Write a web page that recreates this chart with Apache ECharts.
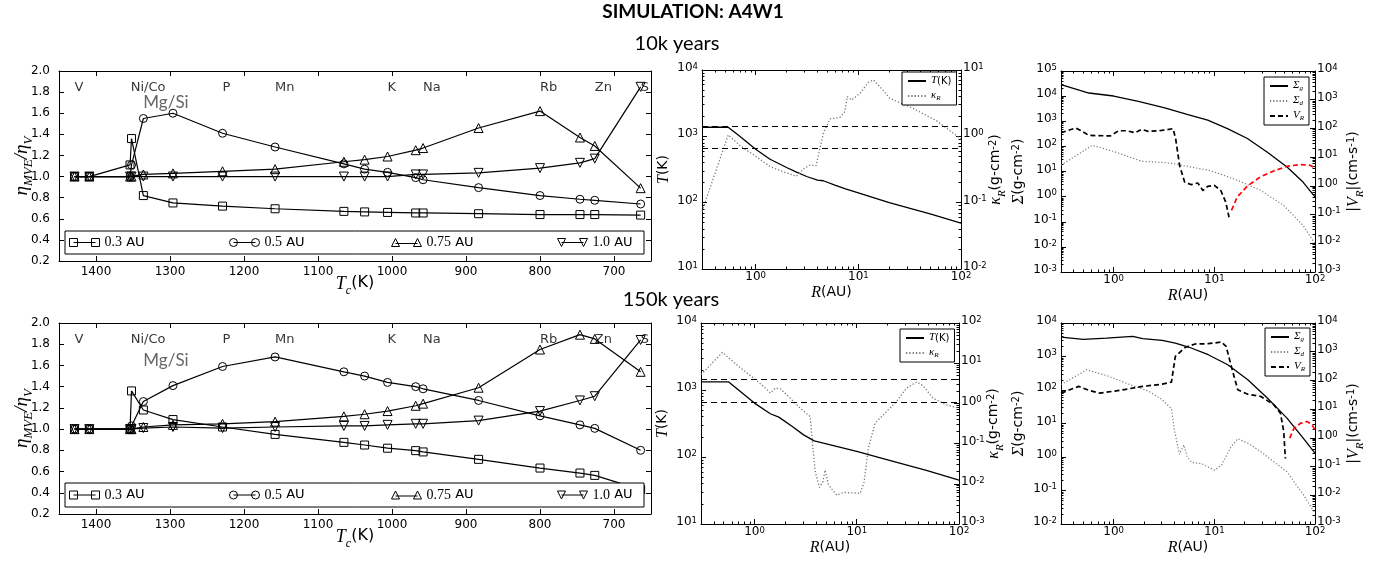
<!DOCTYPE html>
<html>
<head>
<meta charset="utf-8">
<script src="https://cdn.jsdelivr.net/npm/echarts@6/dist/echarts.min.js"></script>
<style>
html, body { margin: 0; padding: 0; background: #fff; }
#chart { width: 1385px; height: 561px; }
</style>
</head>
<body>
<div id="chart"></div>
<script>
// ---- condensation temperatures of the tracked elements (K) ----
const condTemp = [1429, 1409, 1354, 1352, 1336, 1296, 1229, 1158, 1065, 1037, 1006, 968, 958, 883, 800, 746, 726, 664];

// eta_MVE / eta_V after 10k years, one list per radius
const eta10k_03 = [1.0, 1.0, 1.11, 1.36, 0.82, 0.75, 0.72, 0.695, 0.67, 0.665, 0.66, 0.655, 0.655, 0.648, 0.64, 0.64, 0.64, 0.635];
const eta10k_05 = [1.0, 1.0, 1.0, 1.11, 1.55, 1.6, 1.41, 1.28, 1.12, 1.07, 1.04, 0.99, 0.97, 0.895, 0.82, 0.785, 0.775, 0.74];
const eta10k_075 = [1.0, 1.0, 1.0, 1.0, 1.02, 1.03, 1.05, 1.07, 1.14, 1.16, 1.19, 1.25, 1.27, 1.46, 1.62, 1.37, 1.29, 0.89];
const eta10k_10 = [1.0, 1.0, 1.0, 1.0, 1.0, 1.0, 1.0, 1.0, 1.0, 1.0, 1.0, 1.02, 1.02, 1.035, 1.08, 1.13, 1.17, 1.85];

// eta_MVE / eta_V after 150k years
const eta150k_03 = [1.0, 1.0, 1.0, 1.36, 1.18, 1.09, 1.02, 0.95, 0.875, 0.85, 0.82, 0.797, 0.785, 0.715, 0.633, 0.586, 0.564, 0.43];
const eta150k_05 = [1.0, 1.0, 1.0, 1.03, 1.26, 1.41, 1.59, 1.68, 1.54, 1.5, 1.44, 1.4, 1.38, 1.27, 1.125, 1.04, 1.007, 0.8];
const eta150k_075 = [1.0, 1.0, 1.0, 1.0, 1.02, 1.04, 1.05, 1.07, 1.12, 1.14, 1.17, 1.22, 1.24, 1.39, 1.75, 1.89, 1.85, 1.54];
const eta150k_10 = [1.0, 1.0, 1.0, 1.0, 1.01, 1.02, 1.01, 1.02, 1.03, 1.03, 1.04, 1.05, 1.05, 1.08, 1.17, 1.27, 1.31, 1.84];

// element annotations
const elementNames = ['V', 'Ni/Co', 'P', 'Mn', 'K', 'Na', 'Rb', 'Zn', 'S'];
const elementTc = [1429, 1353, 1229, 1158, 1006, 958, 800, 726, 664];
const groupLabel = 'Mg/Si';
const groupTc = 1336;

const radiusNames = ['0.3 AU', '0.5 AU', '0.75 AU', '1.0 AU'];
const tcTicks = [700, 800, 900, 1000, 1100, 1200, 1300, 1400];

// ---- disk midplane temperature and Rosseland opacity, 10k years ----
const rTempA = [0.3, 0.54, 0.70, 1.0, 1.38, 2.0, 2.5, 3.14, 4.0, 4.56, 6.0, 7.5, 10, 20, 50, 100];
const tempA = [1370, 1370, 1000, 640, 452, 339, 289, 248, 219, 214, 182, 161, 141, 100, 68, 49];
const rKappaA = [0.3, 0.54, 0.70, 1.0, 1.38, 2.0, 2.5, 2.9, 3.38, 3.87, 4.56, 5.3, 6.6, 7.4, 7.8, 8.6, 10.4, 12.5, 14, 16.2, 20.3, 34, 58, 100];
const kappaA = [0.074, 1.05, 0.73, 0.50, 0.35, 0.28, 0.25, 0.32, 0.37, 0.36, 1.11, 1.83, 1.92, 2.36, 3.98, 3.53, 4.46, 6.5, 7.1, 5.6, 3.74, 2.65, 1.71, 0.91];

// ---- same, 150k years ----
const rTempB = [0.3, 0.56, 1.0, 1.43, 1.73, 2.42, 3.02, 3.84, 10, 22.7, 48, 100];
const tempB = [1320, 1320, 637, 442, 394, 276, 214, 174, 121, 86, 63, 45];
const rKappaB = [0.3, 0.373, 0.485, 0.73, 1.0, 1.28, 1.43, 1.6, 1.79, 2.24, 2.8, 3.51, 3.7, 3.93, 4.33, 4.66, 4.91, 5.3, 6.38, 7.4, 10.8, 11.8, 13, 15.1, 19.6, 24.5, 30.7, 38.5, 44.6, 55.7, 75, 100];
const kappaB = [5.2, 9.2, 18.6, 7.6, 4.1, 2.4, 1.8, 2.4, 2.3, 1.35, 0.76, 0.47, 0.093, 0.02, 0.0081, 0.0112, 0.022, 0.0093, 0.0052, 0.0061, 0.0058, 0.011, 0.078, 0.32, 0.63, 1.12, 2.4, 3.4, 2.74, 1.35, 0.92, 0.76];

// condensation lines drawn across the temperature panels (K)
const condLines = [1429, 664];

// ---- surface densities and radial velocity, 10k years ----
const rSigmaA = [0.3, 0.568, 1.0, 1.76, 3.22, 5.47, 8.6, 13.5, 21.3, 33.4, 52.7, 76, 100];
const sigmaGasA = [28600, 13300, 10100, 6200, 3400, 1820, 1100, 510, 205, 60, 15, 3.8, 0.97];
const rDustA = [0.3, 0.612, 1.0, 1.9, 3.22, 4.35, 5.9, 7.7, 8.6, 11.6, 16.9, 28.7, 48.8, 76, 100];
const sigmaDustA = [17.8, 110, 63, 25.5, 22.6, 19.3, 15, 12.3, 11.5, 7.8, 4.5, 1.8, 0.45, 0.072, 0.0135];
const rVelInA = [0.3, 0.42, 0.488, 0.568, 0.93, 1.12, 1.35, 1.63, 1.9, 2.21, 2.99, 3.89, 4.13, 4.52, 5.07, 5.9, 6.85, 7.7, 8.6, 10.0, 11.6, 13.0, 14.0];
const velInA = [71, 103, 79, 57, 55, 83, 83, 71, 93, 79, 85, 98, 44, 5.1, 1.37, 1.1, 1.26, 0.69, 0.96, 1.04, 0.69, 0.27, 0.081];
const rVelOutA = [14.8, 16.9, 21.3, 28.7, 38.9, 52.7, 71, 89, 100];
const velOutA = [0.14, 0.41, 0.98, 2.05, 3.3, 4.8, 5.5, 5.2, 4.2];

// ---- same, 150k years ----
const rSigmaB = [0.3, 0.5, 0.85, 1.55, 1.94, 3.04, 4.1, 5.55, 8.7, 13.6, 21.5, 33.6, 52.7, 76.7, 100];
const sigmaGasB = [3800, 3240, 3560, 3990, 3400, 3030, 2520, 1920, 1130, 566, 202, 58, 14.5, 3.6, 1.3];
const rDustB = [0.3, 0.54, 0.85, 1.55, 2.25, 3.04, 3.75, 4.04, 4.5, 4.98, 5.37, 5.97, 7.5, 10.1, 11.8, 14.7, 17.1, 21.5, 29, 39, 52.7, 76.7, 100];
const sigmaDustB = [145, 400, 270, 134, 91, 51, 27.5, 5.8, 1.2, 2.3, 1.02, 0.69, 0.63, 0.4, 0.58, 2.04, 3.5, 2.6, 1.44, 0.72, 0.36, 0.074, 0.021];
const rVelInB = [0.3, 0.45, 0.58, 0.73, 1.23, 1.94, 3.04, 3.75, 4.1, 5.13, 6.44, 8.7, 11.8, 13.1, 14.9, 17.1, 21.5, 29, 39, 45.4, 48.9, 50.8];
const velInB = [36, 62, 44, 36, 47, 62, 74, 87, 690, 1410, 1860, 1900, 2170, 1540, 270, 47, 33, 27.6, 14.2, 7.2, 1.66, 0.19];
const rVelOutB = [56, 61.5, 71.5, 82.8, 92.6, 100];
const velOutB = [0.98, 2.05, 3.2, 3.7, 3.0, 1.9];

// ---------------------------------------------------------------
const BLACK = '#000';
const SANS = 'DejaVu Sans';
const SERIF = 'Liberation Serif';

const xAxis = [], yAxis = [], series = [], legend = [], graphic = [];
const grid = [
  { left: 59, top: 71, width: 592, height: 190 },
  { left: 702, top: 70, width: 259, height: 199 },
  { left: 1061, top: 71, width: 254, height: 201 },
  { left: 59, top: 323, width: 592, height: 191 },
  { left: 701, top: 323, width: 258, height: 201 },
  { left: 1061, top: 323, width: 254, height: 201 }
];

function zip(xs, ys) { return xs.map((x, i) => [x, ys[i]]); }
function decades(lo, hi) {
  const out = [];
  for (let e = Math.round(Math.log10(lo)); e <= Math.round(Math.log10(hi)); e++) out.push(Math.pow(10, e));
  return out;
}
function minors(lo, hi) {
  const out = [];
  for (let e = Math.floor(Math.log10(lo)); e < Math.ceil(Math.log10(hi)); e++) {
    for (let m = 2; m <= 9; m++) {
      const v = m * Math.pow(10, e);
      if (v >= lo * 0.999 && v <= hi * 1.001) out.push(v);
    }
  }
  return out;
}

// rich-text styles for math-like axis titles
function mathRich(base) {
  return {
    i: { fontFamily: SERIF, fontStyle: 'italic', fontSize: base, lineHeight: base + 4, verticalAlign: 'top', color: BLACK, fill: BLACK },
    n: { fontFamily: SANS, fontSize: base - 2, lineHeight: base + 4, verticalAlign: 'top', color: BLACK, fill: BLACK },
    sb: { fontFamily: SERIF, fontStyle: 'italic', fontSize: Math.round(base * 0.68), lineHeight: 8, verticalAlign: 'bottom', color: BLACK, fill: BLACK },
    sp: { fontFamily: SANS, fontSize: Math.round(base * 0.6), lineHeight: 6, verticalAlign: 'top', color: BLACK, fill: BLACK }
  };
}
const powRich = {
  b: { fontFamily: SANS, fontSize: 12, lineHeight: 16, verticalAlign: 'top', color: BLACK },
  s: { fontFamily: SANS, fontSize: 8.5, lineHeight: 8, verticalAlign: 'top', color: BLACK }
};
function powLabel(v) {
  const e = Math.round(Math.log10(v));
  return '{b|10}{s|' + e + '}';
}
function ticks(vals, len) {
  return { show: true, inside: true, length: len, customValues: vals, lineStyle: { color: BLACK, width: 1 } };
}
const frameLine = { show: true, onZero: false, lineStyle: { color: BLACK, width: 1 } };
const noLine = { show: false, onZero: false };

function addAxis(list, o) {
  list.push(Object.assign({ splitLine: { show: false }, nameMoveOverlap: false }, o));
  return list.length - 1;
}

// vertical axis title, centred on (x, y) and reading bottom-to-top
function verticalTitle(x, y, text) {
  graphic.push({
    type: 'text', x: x, y: y, rotation: Math.PI / 2, silent: true,
    style: { text: text, rich: mathRich(16), fill: BLACK, align: 'center', verticalAlign: 'middle' }
  });
}

// linear Tc axis pair + eta axis pair
function etaAxes(g) {
  const xb = addAxis(xAxis, {
    gridIndex: g, type: 'value', min: 650, max: 1450, inverse: true, position: 'bottom',
    axisLine: frameLine, axisTick: ticks(tcTicks, 5),
    axisLabel: { customValues: tcTicks, fontFamily: SANS, fontSize: 12, color: BLACK, margin: 5, formatter: v => String(v) },
    name: '{i|T}{sb|c}{n|(K)}', nameLocation: 'middle', nameGap: 14,
    nameTextStyle: { rich: mathRich(18), verticalAlign: 'top' }
  });
  addAxis(xAxis, {
    gridIndex: g, type: 'value', min: 650, max: 1450, inverse: true, position: 'top',
    axisLine: frameLine, axisTick: ticks(tcTicks, 5), axisLabel: { show: false }
  });
  const yl = addAxis(yAxis, {
    gridIndex: g, type: 'value', min: 0.2, max: 2.0, interval: 0.2, position: 'left',
    axisLine: frameLine, axisTick: { show: true, inside: true, length: 5, lineStyle: { color: BLACK } },
    axisLabel: { fontFamily: SANS, fontSize: 12, color: BLACK, margin: 9, formatter: v => v.toFixed(1) },
    name: '{i|η}{sb|MVE}{i|/η}{sb|V}', nameLocation: 'middle', nameGap: 24, nameRotate: 90,
    nameTextStyle: { rich: mathRich(19) }
  });
  addAxis(yAxis, {
    gridIndex: g, type: 'value', min: 0.2, max: 2.0, interval: 0.2, position: 'right',
    axisLine: frameLine, axisTick: { show: true, inside: true, length: 5, lineStyle: { color: BLACK } },
    axisLabel: { show: false }
  });
  return { x: xb, y: yl };
}

// log-log panel with a second log scale on the right
function logAxes(g, xr, yl, yr) {
  const xMaj = decades(xr[0], xr[1]).filter(v => v >= xr[0]);
  const xMin = minors(xr[0], xr[1]);
  const xb = addAxis(xAxis, {
    gridIndex: g, type: 'log', logBase: 10, min: xr[0], max: xr[1], position: 'bottom',
    axisLine: frameLine, axisTick: ticks(xMaj, 5),
    axisLabel: { customValues: xMaj, formatter: powLabel, rich: powRich, margin: 2 },
    name: '{i|R}{n|(AU)}', nameLocation: 'middle', nameGap: 16,
    nameTextStyle: { rich: mathRich(16), verticalAlign: 'top' }
  });
  addAxis(xAxis, { gridIndex: g, type: 'log', logBase: 10, min: xr[0], max: xr[1], position: 'bottom',
    axisLine: noLine, axisTick: ticks(xMin, 2.5), axisLabel: { show: false } });
  addAxis(xAxis, { gridIndex: g, type: 'log', logBase: 10, min: xr[0], max: xr[1], position: 'top',
    axisLine: frameLine, axisTick: ticks(xMaj, 5), axisLabel: { show: false } });
  addAxis(xAxis, { gridIndex: g, type: 'log', logBase: 10, min: xr[0], max: xr[1], position: 'top',
    axisLine: noLine, axisTick: ticks(xMin, 2.5), axisLabel: { show: false } });

  const lMaj = decades(yl[0], yl[1]);
  const left = addAxis(yAxis, {
    gridIndex: g, type: 'log', logBase: 10, min: yl[0], max: yl[1], position: 'left',
    axisLine: frameLine, axisTick: ticks(lMaj, 5),
    axisLabel: { customValues: lMaj, formatter: powLabel, rich: powRich, margin: 4 }
  });
  addAxis(yAxis, { gridIndex: g, type: 'log', logBase: 10, min: yl[0], max: yl[1], position: 'left',
    axisLine: noLine, axisTick: ticks(minors(yl[0], yl[1]), 2.5), axisLabel: { show: false } });

  const rMaj = decades(yr[0], yr[1]);
  const right = addAxis(yAxis, {
    gridIndex: g, type: 'log', logBase: 10, min: yr[0], max: yr[1], position: 'right',
    axisLine: frameLine, axisTick: ticks(rMaj, 5),
    axisLabel: { customValues: rMaj, formatter: powLabel, rich: powRich, margin: 2 }
  });
  addAxis(yAxis, { gridIndex: g, type: 'log', logBase: 10, min: yr[0], max: yr[1], position: 'right',
    axisLine: noLine, axisTick: ticks(minors(yr[0], yr[1]), 2.5), axisLabel: { show: false } });
  return { x: xb, yl: left, yr: right };
}

// ---- element-ratio panels ----
const markers = [
  { symbol: 'rect', size: 8 },
  { symbol: 'circle', size: 8 },
  { symbol: 'triangle', size: 9 },
  { symbol: 'path://M0,0L10,0L5,10Z', size: 9 }
];
const legendIcons = [
  'path://M0,0H8V8H0Z M22,0H30V8H22Z M4,4H26',
  'path://M8,4A4,4,0,1,1,0,4A4,4,0,1,1,8,4Z M30,4A4,4,0,1,1,22,4A4,4,0,1,1,30,4Z M4,4H26',
  'path://M0,8L4,0L8,8Z M22,8L26,0L30,8Z M4,5H26',
  'path://M0,0L8,0L4,8Z M22,0L30,0L26,8Z M4,4H26'
];
const legendSlots = [69, 229, 391, 557];

function etaPanel(g, sets, groupY, legendBox) {
  const ax = etaAxes(g);
  sets.forEach((vals, k) => {
    series.push({
      type: 'line', name: radiusNames[k], xAxisIndex: ax.x, yAxisIndex: ax.y,
      data: zip(condTemp, vals), symbol: markers[k].symbol, symbolSize: markers[k].size,
      showSymbol: true, silent: true, z: 2,
      lineStyle: { color: BLACK, width: 1.2 },
      itemStyle: { color: 'rgba(0,0,0,0)', borderColor: BLACK, borderWidth: 1 },
      emphasis: { disabled: true }
    });
  });
  series.push({
    type: 'scatter', xAxisIndex: ax.x, yAxisIndex: ax.y, symbolSize: 0, silent: true, z: 2,
    itemStyle: { color: 'rgba(0,0,0,0)' },
    data: elementTc.map((t, i) => ({ name: elementNames[i], value: [t, 1.84] })),
    label: { show: true, position: 'right', distance: 0, formatter: '{b}', fontFamily: SANS, fontSize: 13, color: BLACK }
  });
  series.push({
    type: 'scatter', xAxisIndex: ax.x, yAxisIndex: ax.y, symbolSize: 0, silent: true, z: 2,
    itemStyle: { color: 'rgba(0,0,0,0)' },
    data: [{ name: groupLabel, value: [groupTc, groupY] }],
    label: { show: true, position: 'right', distance: 0, formatter: '{b}', fontFamily: 'Lato', fontSize: 17, color: '#404040' }
  });
  graphic.push({
    type: 'rect', z: 20, zlevel: 0, silent: true,
    shape: { x: legendBox[0], y: legendBox[1], width: 579, height: legendBox[2] },
    style: { fill: '#fff', stroke: BLACK, lineWidth: 1 }
  });
  radiusNames.forEach((nm, k) => {
    legend.push({
      left: legendSlots[k], top: legendBox[1] + legendBox[2] / 2 - 8, padding: 0, z: 30,
      itemWidth: 30, itemHeight: 8, selectedMode: false,
      data: [{ name: nm, icon: legendIcons[k] }],
      itemStyle: { color: 'rgba(0,0,0,0)', borderColor: BLACK, borderWidth: 1 },
      formatter: n => '{m|' + n.split(' ')[0] + '} AU',
      textStyle: { fontFamily: SANS, fontSize: 13, color: BLACK, lineHeight: 16,
        rich: { m: { fontFamily: SERIF, fontSize: 14, color: BLACK, lineHeight: 16 } } }
    });
  });
}

etaPanel(0, [eta10k_03, eta10k_05, eta10k_075, eta10k_10], 1.70, [65, 231, 23]);
etaPanel(3, [eta150k_03, eta150k_05, eta150k_075, eta150k_10], 1.65, [65, 483, 24]);

// ---- temperature / opacity panels ----
const smallLegendText = {
  fontFamily: SANS, fontSize: 10, color: BLACK, lineHeight: 12,
  rich: {
    i: { fontFamily: SERIF, fontStyle: 'italic', fontSize: 11, lineHeight: 12, verticalAlign: 'top', color: BLACK },
    sb: { fontFamily: SERIF, fontStyle: 'italic', fontSize: 7, lineHeight: 5, verticalAlign: 'bottom', color: BLACK }
  }
};
function legendLabel(n) {
  const m = n.match(/^(.)_(.)$/);
  if (m) return '{i|' + m[1] + '}{sb|' + m[2] + '}';
  return '{i|' + n[0] + '}' + n.slice(1);
}
function boxLegend(left, top, names) {
  legend.push({
    left: left, top: top, orient: 'vertical', padding: [3, 5, 3, 5], itemGap: 3,
    itemWidth: 18, itemHeight: 11, selectedMode: false, z: 5,
    backgroundColor: '#fff', borderColor: BLACK, borderWidth: 1, borderRadius: 0,
    itemStyle: { opacity: 0 },
    data: names, formatter: legendLabel, textStyle: smallLegendText
  });
}

function tempPanel(g, rT, T, rK, K, kRange) {
  const ax = logAxes(g, [0.3, 100], [10, 10000], kRange);
  const gr = grid[g];
  const midY = gr.top + gr.height / 2;
  verticalTitle(gr.left - 36, midY, '{i|T}{n|(K)}');
  verticalTitle(gr.left + gr.width + 37, midY, '{i|κ}{sb|R}{n|(g-cm}{sp|-2}{n|)}');
  series.push({
    type: 'line', name: 'T(K)', xAxisIndex: ax.x, yAxisIndex: ax.yl, data: zip(rT, T),
    symbol: 'none', silent: true, lineStyle: { color: BLACK, width: 1.3 },
    itemStyle: { color: BLACK },
    markLine: {
      silent: true, symbol: ['none', 'none'], label: { show: false },
      lineStyle: { color: BLACK, width: 1.2, type: [6, 4] },
      data: condLines.map(v => ({ yAxis: v }))
    }
  });
  series.push({
    type: 'line', name: 'κ_R', xAxisIndex: ax.x, yAxisIndex: ax.yr, data: zip(rK, K),
    symbol: 'none', silent: true, lineStyle: { color: '#7a7a7a', width: 1.3, type: [1.3, 2] },
    itemStyle: { color: '#7a7a7a' }
  });
}
tempPanel(1, rTempA, tempA, rKappaA, kappaA, [0.01, 10]);
tempPanel(4, rTempB, tempB, rKappaB, kappaB, [0.001, 100]);
boxLegend(902, 72, ['T(K)', 'κ_R']);
boxLegend(900, 329, ['T(K)', 'κ_R']);

// ---- surface density / radial velocity panels ----
function densityPanel(g, sRange, rS, Sg, rD, Sd, rIn, vIn, rOut, vOut) {
  const ax = logAxes(g, [0.3, 100], sRange, [0.001, 10000]);
  const gr = grid[g];
  const midY = gr.top + gr.height / 2;
  verticalTitle(gr.left - 40, midY, '{i|Σ}{n|(g-cm}{sp|-2}{n|)}');
  verticalTitle(gr.left + gr.width + 41, midY, '{n||}{i|V}{sb|R}{n||(cm-s}{sp|-1}{n|)}');
  series.push({
    type: 'line', name: 'Σ_g', xAxisIndex: ax.x, yAxisIndex: ax.yl, data: zip(rS, Sg),
    symbol: 'none', silent: true, lineStyle: { color: BLACK, width: 1.3 }, itemStyle: { color: BLACK }
  });
  series.push({
    type: 'line', name: 'Σ_d', xAxisIndex: ax.x, yAxisIndex: ax.yl, data: zip(rD, Sd),
    symbol: 'none', silent: true, lineStyle: { color: '#7a7a7a', width: 1.2, type: [1.2, 2] }, itemStyle: { color: '#7a7a7a' }
  });
  series.push({
    type: 'line', name: 'V_R', xAxisIndex: ax.x, yAxisIndex: ax.yr, data: zip(rIn, vIn),
    symbol: 'none', silent: true, lineStyle: { color: BLACK, width: 1.7, type: [5, 3] }, itemStyle: { color: BLACK }
  });
  series.push({
    type: 'line', name: 'V_R outward', xAxisIndex: ax.x, yAxisIndex: ax.yr, data: zip(rOut, vOut),
    symbol: 'none', silent: true, lineStyle: { color: '#ff0000', width: 1.7, type: [5, 3] }, itemStyle: { color: '#ff0000' }
  });
}
densityPanel(2, [0.001, 100000], rSigmaA, sigmaGasA, rDustA, sigmaDustA, rVelInA, velInA, rVelOutA, velOutA);
densityPanel(5, [0.01, 10000], rSigmaB, sigmaGasB, rDustB, sigmaDustB, rVelInB, velInB, rVelOutB, velOutB);
boxLegend(1264, 77, ['Σ_g', 'Σ_d', 'V_R']);
boxLegend(1265, 328, ['Σ_g', 'Σ_d', 'V_R']);

// ---- headings ----
graphic.push(
  { type: 'text', x: 693, y: 12, style: { text: 'SIMULATION: A4W1', font: 'bold 19px Lato', fill: BLACK, textAlign: 'center', textVerticalAlign: 'middle' } },
  { type: 'text', x: 677, y: 44, style: { text: '10k years', font: '20px Lato', fill: BLACK, textAlign: 'center', textVerticalAlign: 'middle' } },
  { type: 'text', x: 671, y: 300, style: { text: '150k years', font: '20px Lato', fill: BLACK, textAlign: 'center', textVerticalAlign: 'middle' } }
);

const chart = echarts.init(document.getElementById('chart'));
chart.setOption({
  animation: false,
  backgroundColor: '#fff',
  textStyle: { fontFamily: SANS },
  grid: grid,
  xAxis: xAxis,
  yAxis: yAxis,
  legend: legend,
  graphic: graphic,
  series: series
});
</script>
</body>
</html>
